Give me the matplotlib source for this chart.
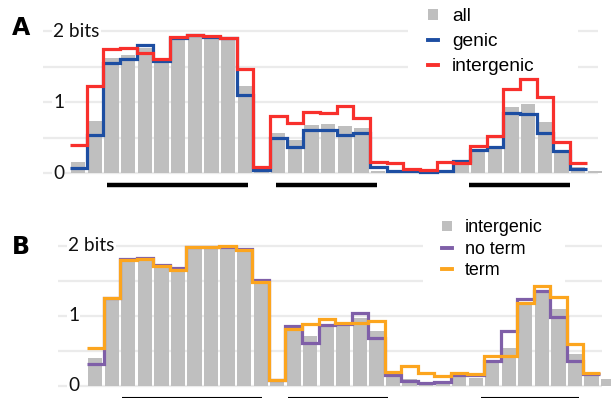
import matplotlib
matplotlib.use("Agg")
import matplotlib.pyplot as plt
import numpy as np
from matplotlib.lines import Line2D
from matplotlib.patches import Patch, Rectangle

# ---------------------------------------------------------------- data
# panel A: information (bits) per position
a_all = [0.15, 0.73, 1.62, 1.66, 1.76, 1.59, 1.89, 1.91, 1.91, 1.89, 1.22, 0.01,
         0.57, 0.46, 0.68, 0.69, 0.66, 0.63, 0.03, 0.01, 0.01, 0.01, 0.02, 0.13,
         0.30, 0.35, 0.93, 0.97, 0.72, 0.33, 0.08, 0.03]
a_genic = [0.07, 0.54, 1.55, 1.61, 1.81, 1.58, 1.90, 1.94, 1.92, 1.90, 1.10, 0.04,
           0.50, 0.37, 0.61, 0.61, 0.54, 0.57, 0.08, 0.03, 0.03, 0.02, 0.03, 0.17,
           0.32, 0.37, 0.85, 0.83, 0.57, 0.31, 0.06]
a_intergenic = [0.40, 1.22, 1.74, 1.76, 1.69, 1.61, 1.92, 1.94, 1.93, 1.90, 1.46, 0.08,
                0.81, 0.70, 0.86, 0.85, 0.94, 0.77, 0.15, 0.14, 0.05, 0.04, 0.15, 0.14,
                0.38, 0.52, 1.18, 1.33, 1.07, 0.43, 0.14]
a_segments = [(1.73, 10.18), (11.87, 17.92), (23.44, 29.5)]

# panel B: intergenic split by terminator
b_intergenic = [0.40, 1.23, 1.78, 1.80, 1.70, 1.64, 1.97, 1.97, 1.98, 1.92, 1.48, 0.05,
                0.80, 0.72, 0.85, 0.87, 0.97, 0.78, 0.13, 0.10, 0.05, 0.06, 0.16, 0.12,
                0.36, 0.54, 1.17, 1.35, 1.10, 0.45, 0.16, 0.10]
b_noterm = [0.32, 1.26, 1.82, 1.83, 1.73, 1.68, 1.98, 1.98, 1.99, 1.96, 1.52, 0.09,
            0.85, 0.61, 0.87, 0.88, 1.04, 0.69, 0.16, 0.07, 0.04, 0.06, 0.16, 0.16,
            0.36, 0.78, 1.24, 1.35, 0.99, 0.36, 0.17]
b_term = [0.54, 1.26, 1.80, 1.81, 1.72, 1.65, 1.98, 1.98, 2.00, 1.94, 1.49, 0.09,
          0.82, 0.88, 0.96, 0.90, 0.90, 0.93, 0.20, 0.28, 0.18, 0.14, 0.18, 0.17,
          0.43, 0.43, 1.18, 1.43, 1.27, 0.60, 0.19]
b_segments = [(1.61, 10.08), (11.65, 17.7), (23.3, 29.24)]

grid_vals = [0, 0.5, 1, 1.5, 2]
tick_vals = [0, 1, 2]
tick_text = ["0", "1", "2 bits"]

# ---------------------------------------------------------------- style
GRAY = "#bfbfbf"
BLUE = "#1d4ea2"
RED = "#f8302c"
PURPLE = "#7f5fa8"
ORANGE = "#fca51e"
GRID = "#ebebeb"
TICK_FONT = "Lato"
LEG_FONT = "Liberation Sans"


def draw_panel(ax, bars, lines, segments, seg_lw, grid_span, tick_x, box):
    ax.set_axis_off()
    ax.hlines(grid_vals, grid_span[0], grid_span[1], color=GRID, lw=1.6, zorder=0)
    # white box behind the legend hides the gridlines there
    ax.add_patch(Rectangle((box[0], box[2]), box[1] - box[0], 3, facecolor="white",
                           edgecolor="none", zorder=0.5))
    x = np.arange(len(bars))
    ax.bar(x, bars, width=0.86, color=GRAY, zorder=1)
    for vals, color in lines:
        edges = np.arange(len(vals) + 1) - 0.5
        ax.stairs(vals, edges, baseline=None, color=color, lw=2.3, zorder=2)
    for v, t in zip(tick_vals, tick_text):
        ax.text(tick_x, v, t, ha="left", va="center", fontsize=13.8,
                family=TICK_FONT, color="#111111", zorder=3,
                bbox=dict(facecolor="white", edgecolor="none", pad=1.0))
    for s0, s1 in segments:
        ax.plot([s0, s1], [-0.17, -0.17], color="black", lw=seg_lw,
                solid_capstyle="butt", clip_on=False)


fig = plt.figure(figsize=(6.11, 3.98), dpi=100)

ax_a = fig.add_axes([0, 0.5207, 1, 0.4549])
ax_a.set_xlim(-4.69, 31.96)
ax_a.set_ylim(-0.25, 2.3)
draw_panel(ax_a, a_all, [(a_genic, BLUE), (a_intergenic, RED)], a_segments, 3.2,
           (-2.11, 31.18), -1.51, (19.8, 30.0, 1.38))
ax_a.legend([Patch(facecolor=GRAY), Line2D([], [], color=BLUE, lw=2.8),
             Line2D([], [], color=RED, lw=2.8)],
            ["all", "genic", "intergenic"], loc="upper left",
            bbox_to_anchor=(20.98, 2.32), bbox_transform=ax_a.transData,
            frameon=False, borderpad=0, borderaxespad=0, handlelength=0.55,
            handleheight=0.55, handletextpad=0.7, labelspacing=0.42,
            prop=dict(family=LEG_FONT, size=13.8))

ax_b = fig.add_axes([0, -0.005, 1, 0.4397])
ax_b.set_xlim(-5.76, 31.18)
ax_b.set_ylim(-0.2, 2.3)
draw_panel(ax_b, b_intergenic, [(b_noterm, PURPLE), (b_term, ORANGE)], b_segments, 1.5,
           (-2.26, 30.63), -1.65, (19.8, 28.4, 1.45))
ax_b.legend([Patch(facecolor=GRAY), Line2D([], [], color=PURPLE, lw=2.8),
             Line2D([], [], color=ORANGE, lw=2.8)],
            ["intergenic", "no term", "term"], loc="upper left",
            bbox_to_anchor=(20.97, 2.38), bbox_transform=ax_b.transData,
            frameon=False, borderpad=0, borderaxespad=0, handlelength=0.55,
            handleheight=0.55, handletextpad=0.7, labelspacing=0.23,
            prop=dict(family=LEG_FONT, size=12.9))

fig.text(12 / 611, 1 - 35 / 398, "A", fontsize=17, fontweight="black",
         family="DejaVu Sans", ha="left", va="baseline")
fig.text(12 / 611, 1 - 254 / 398, "B", fontsize=17, fontweight="black",
         family="DejaVu Sans", ha="left", va="baseline")

fig.savefig("out.png", dpi=100)
